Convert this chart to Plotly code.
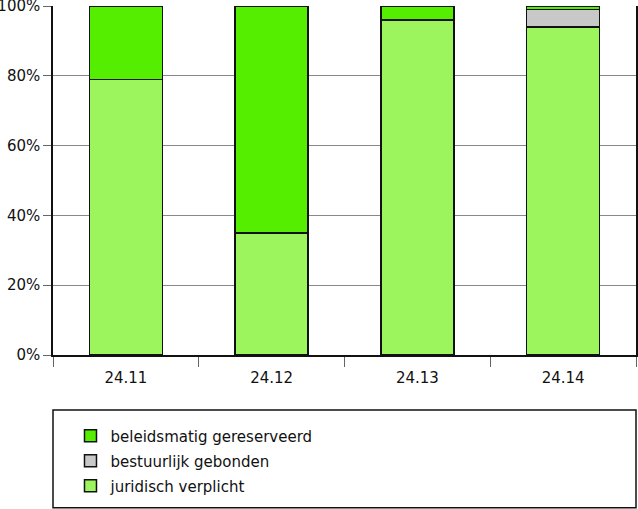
import plotly.graph_objects as go

categories = ["24.11", "24.12", "24.13", "24.14"]
juridisch = [79, 35, 96, 94]
bestuurlijk = [0, 0, 0, 5]
beleidsmatig = [21, 65, 4, 1]

series = [
    ("juridisch verplicht", juridisch, "#9CF55C", 3),
    ("bestuurlijk gebonden", bestuurlijk, "#C8C8C8", 2),
    ("beleidsmatig gereserveerd", beleidsmatig, "#55EE00", 1),
]

fig = go.Figure()
for name, vals, col, rank in series:
    fig.add_trace(go.Bar(
        x=categories, y=vals, name=name, legendgroup=name, legendrank=rank,
        marker=dict(color=col, line=dict(color="#111111", width=1.5)),
        width=0.5,
    ))

fig.update_layout(
    barmode="stack",
    width=638, height=509,
    margin=dict(l=53, r=2, t=6, b=154, autoexpand=False),
    paper_bgcolor="white", plot_bgcolor="white",
    font=dict(family="DejaVu Sans", size=15, color="#111111"),
    showlegend=True,
    legend=dict(
        traceorder="grouped",
        x=0.03, y=-0.185, xanchor="left", yanchor="top",
        bgcolor="rgba(0,0,0,0)", borderwidth=0,
        font=dict(size=15), tracegroupgap=2.5, itemwidth=30,
    ),
    xaxis=dict(
        showline=True, linecolor="#111111", linewidth=1.5,
        ticks="outside", tickson="boundaries", ticklen=10, tickcolor="#666666",
        showgrid=False, ticklabelstandoff=8,
    ),
    yaxis=dict(
        range=[0, 100], tickvals=[0, 20, 40, 60, 80, 100],
        ticktext=["0%", "20%", "40%", "60%", "80%", "100%"],
        showgrid=True, gridcolor="#888888", gridwidth=1,
        showline=True, linecolor="#111111", linewidth=1.5, mirror=True,
        ticks="outside", ticklen=8, tickcolor="#666666",
        zeroline=False, ticklabeloverflow="allow",
    ),
    shapes=[dict(
        type="rect", xref="paper", yref="paper",
        x0=0, x1=1, y0=-0.1576, y1=-0.438,
        line=dict(color="#111111", width=1.5), fillcolor="rgba(0,0,0,0)",
    )],
)

fig.write_html("out.html", config={"displayModeBar": False},
               post_script="document.body.style.margin='0';")
